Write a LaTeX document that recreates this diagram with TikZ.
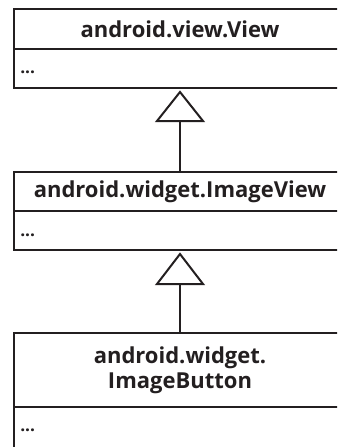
\documentclass[tikz,border=0pt]{standalone}
\usepackage{fontspec}
\setmainfont{Open Sans}
\definecolor{ink}{HTML}{231F20}
\begin{document}
\begin{tikzpicture}[x=0.75pt,y=-0.75pt,
  edge/.style={line width=1.5pt,draw=ink},
  title/.style={font=\bfseries\fontsize{16.5}{19}\selectfont,text=ink,align=center,inner sep=0pt},
  dots/.style={font=\bfseries\fontsize{13}{15}\selectfont,text=ink,anchor=west,inner sep=0pt}]
\useasboundingbox (0,0) rectangle (337,447);
\clip (0,0) rectangle (337,447);
% box 1
\draw[edge] (14,9) rectangle (350,88);
\draw[edge] (14,49) -- (350,49);
\node[title] (t1) at (180,29) {android.view.View};
\node[dots] (d1) at (20,72) {...};
% inheritance 1
\draw[edge,fill=white] (180,92) -- (203,121) -- (157,121) -- cycle;
\coordinate (tb1) at (180,121);
% box 2
\draw[edge] (14,172) rectangle (350,250);
\draw[edge] (14,211) -- (350,211);
\node[title] (t2) at (180,192) {android.widget.ImageView};
\node[dots] (d2) at (20,235) {...};
\coordinate (top2) at (180,172);
\draw[edge] (tb1) -- (top2);
% inheritance 2
\draw[edge,fill=white] (180,254) -- (203,284) -- (157,284) -- cycle;
\coordinate (tb2) at (180,284);
% box 3
\draw[edge] (14,333) rectangle (350,470);
\draw[edge] (14,407) -- (350,407);
\node[title] (t3) at (180,370) {android.widget.\\ImageButton};
\node[dots] (d3) at (20,430) {...};
\coordinate (top3) at (180,333);
\draw[edge] (tb2) -- (top3);
\end{tikzpicture}
\end{document}
